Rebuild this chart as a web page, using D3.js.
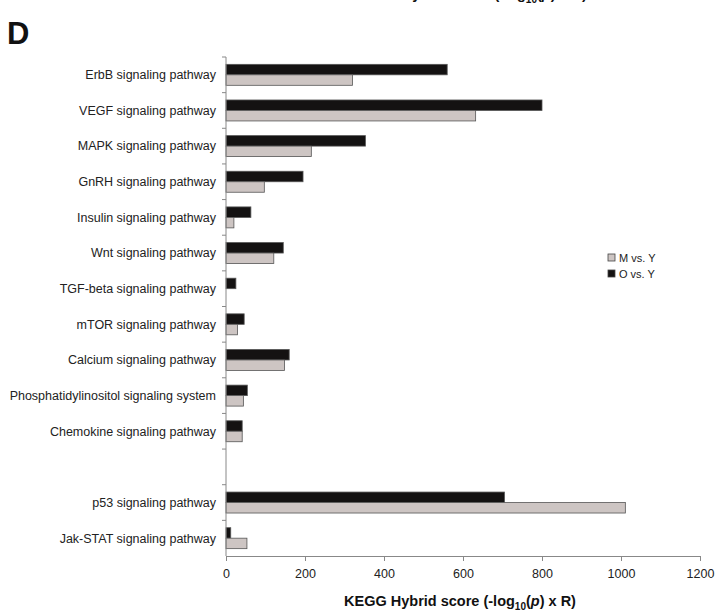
<!DOCTYPE html>
<html>
<head>
<meta charset="utf-8">
<script src="https://cdn.jsdelivr.net/npm/d3@7"></script>
<style>
  body { margin: 0; background: #fff; }
  text { font-family: "Liberation Sans", Arial, sans-serif; }
</style>
</head>
<body>
<script>
// pathways top to bottom, "" is the empty slot before p53
var categories = ["ErbB signaling pathway", "VEGF signaling pathway", "MAPK signaling pathway",
    "GnRH signaling pathway", "Insulin signaling pathway", "Wnt signaling pathway",
    "TGF-beta signaling pathway", "mTOR signaling pathway", "Calcium signaling pathway",
    "Phosphatidylinositol signaling system", "Chemokine signaling pathway", "",
    "p53 signaling pathway", "Jak-STAT signaling pathway"];
var oVsY = [560, 800, 353, 195, 63, 145, 25, 46, 160, 54, 41, null, 705, 12];
var mVsY = [320, 632, 216, 97, 20, 121, 0, 29, 148, 44, 41, null, 1011, 53];
var series = ["O vs. Y", "M vs. Y"];
var xTicks = [0, 200, 400, 600, 800, 1000, 1200];

var width = 716, height = 611;
var svg = d3.select("body").append("svg")
    .attr("width", width)
    .attr("height", height);

var x = d3.scaleLinear().domain([0, 1200]).range([226, 700]);
var y = d3.scaleBand().domain(categories).range([57, 556]).padding(0);
var inner = d3.scaleBand().domain(series).range([0, y.bandwidth()]).paddingInner(0).paddingOuter(0.7);

var color = { "O vs. Y": "#141212", "M vs. Y": "#cdc5c3" };

var rows = categories.map(function (c, i) {
    return { name: c, values: [{ key: "O vs. Y", v: oVsY[i] }, { key: "M vs. Y", v: mVsY[i] }] };
});

// bars
var groups = svg.selectAll("g.row")
    .data(rows.filter(function (d) { return d.name !== ""; }))
    .enter().append("g")
    .attr("class", "row")
    .attr("transform", function (d) { return "translate(0," + y(d.name) + ")"; });

groups.selectAll("rect")
    .data(function (d) { return d.values.filter(function (e) { return e.v > 0; }); })
    .enter().append("rect")
    .attr("x", x(0))
    .attr("y", function (d) { return inner(d.key); })
    .attr("width", function (d) { return x(d.v) - x(0); })
    .attr("height", inner.bandwidth())
    .attr("fill", function (d) { return color[d.key]; })
    .attr("stroke", "#555")
    .attr("stroke-width", 0.8);

// left axis: line, boundary ticks, labels
var yAxis = svg.append("g");
yAxis.append("line")
    .attr("x1", x(0)).attr("x2", x(0))
    .attr("y1", 57).attr("y2", 556)
    .attr("stroke", "#888");
yAxis.selectAll("line.tick")
    .data(categories)
    .enter().append("line")
    .attr("class", "tick")
    .attr("x1", x(0) - 4).attr("x2", x(0))
    .attr("y1", function (d) { return y(d); })
    .attr("y2", function (d) { return y(d); })
    .attr("stroke", "#888");
yAxis.selectAll("text")
    .data(categories)
    .enter().append("text")
    .attr("x", 216)
    .attr("y", function (d) { return y(d) + y.bandwidth() / 2; })
    .attr("dy", "0.35em")
    .attr("text-anchor", "end")
    .attr("font-size", 12.5)
    .attr("fill", "#222")
    .text(function (d) { return d; });

// bottom axis
var xAxis = svg.append("g")
    .attr("transform", "translate(0,556)")
    .call(d3.axisBottom(x).tickValues(xTicks).tickFormat(d3.format("d"))
        .tickSize(5).tickSizeOuter(0).tickPadding(8));
xAxis.select(".domain").attr("stroke", "#888");
xAxis.selectAll(".tick line").attr("stroke", "#888");
xAxis.selectAll(".tick text")
    .attr("font-family", "Liberation Sans, Arial, sans-serif")
    .attr("font-size", 12.5)
    .attr("fill", "#222");

// axis title
function title(yPos, cx) {
    var t = svg.append("text")
        .attr("x", cx)
        .attr("y", yPos)
        .attr("text-anchor", "middle")
        .attr("font-size", 14.5)
        .attr("font-weight", "bold")
        .attr("fill", "#111");
    t.append("tspan").text("KEGG Hybrid score (-log");
    t.append("tspan").attr("font-size", 10).attr("dy", 4).text("10");
    t.append("tspan").attr("dy", -4).text("(");
    t.append("tspan").attr("font-style", "italic").text("p");
    t.append("tspan").text(") x R)");
}
title(606, 460);
// title of the panel above, cut off at the top edge
title(-1, 471);

// panel letter
svg.append("text")
    .attr("x", 7)
    .attr("y", 44)
    .attr("font-size", 31)
    .attr("font-weight", "bold")
    .attr("font-family", "Liberation Sans Narrow, Liberation Sans, Arial, sans-serif")
    .attr("fill", "#111")
    .text("D");

// legend
var legend = svg.append("g");
var legendItems = ["M vs. Y", "O vs. Y"];
legend.selectAll("rect")
    .data(legendItems)
    .enter().append("rect")
    .attr("x", 608)
    .attr("y", function (d, i) { return 254 + i * 16; })
    .attr("width", 7).attr("height", 7)
    .attr("fill", function (d) { return color[d]; })
    .attr("stroke", "#444")
    .attr("stroke-width", 0.8);
legend.selectAll("text")
    .data(legendItems)
    .enter().append("text")
    .attr("x", 619)
    .attr("y", function (d, i) { return 258 + i * 16; })
    .attr("dy", "0.35em")
    .attr("font-size", 11)
    .attr("fill", "#222")
    .text(function (d) { return d; });
</script>
</body>
</html>
